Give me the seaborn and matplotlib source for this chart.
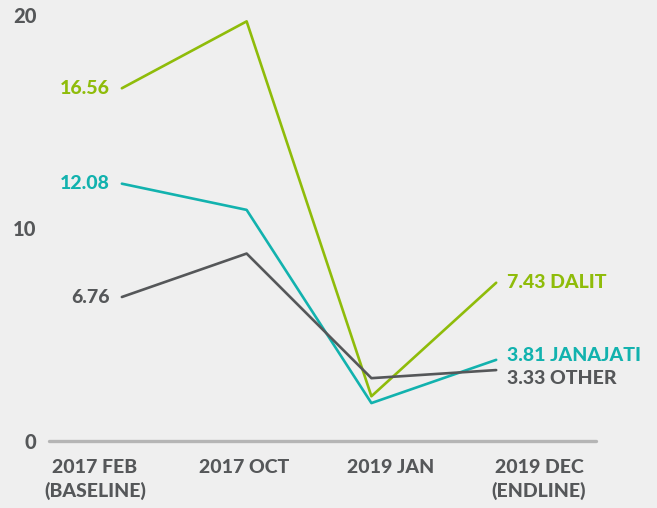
import numpy as np
import pandas as pd
import matplotlib
matplotlib.use("Agg")
import matplotlib.pyplot as plt
import seaborn as sns

# data
rounds = ["2017 FEB\n(BASELINE)", "2017 OCT", "2019 JAN", "2019 DEC\n(ENDLINE)"]
dalit = [16.56, 19.70, 2.10, 7.43]
janajati = [12.08, 10.85, 1.78, 3.81]
other = [6.76, 8.80, 2.95, 3.33]
groups = ["DALIT", "JANAJATI", "OTHER"]
y_ticks = [0, 10, 20]

colors = {"DALIT": "#8fbc0a", "JANAJATI": "#12b2ae", "OTHER": "#555759"}
bg = "#efefef"
txt = "#555759"
W = 900  # heavy weight to mimic the original typeface

df = pd.DataFrame({
    "step": list(range(len(rounds))) * 3,
    "value": dalit + janajati + other,
    "group": np.repeat(groups, len(rounds)),
})

sns.set_theme(style="white")
plt.rcParams["font.family"] = ["Lato", "DejaVu Sans"]

fig = plt.figure(figsize=(6.57, 5.08), dpi=100, facecolor=bg)
ax = fig.add_axes([49 / 657, 67 / 508, 547 / 657, 438.8 / 508])
ax.set_facecolor(bg)

sns.lineplot(data=df, x="step", y="value", hue="group", palette=colors,
             linewidth=1.9, legend=False, ax=ax)

ax.axhline(0, color="#b5b5b5", linewidth=2.4, clip_on=False, zorder=1)

ax.set_xlim(-0.584, 3.8)
ax.set_ylim(0, 20.6)
for s in ax.spines.values():
    s.set_visible(False)

ax.set_yticks(y_ticks)
ax.set_yticklabels([str(t) for t in y_ticks], fontsize=14.5, fontweight=W, color=txt)
# category labels sit on their own even spacing, not under the points
label_pos = [-0.216, 0.976, 2.152, 3.344]
ax.set_xticks(label_pos)
ax.set_xticklabels(rounds, fontsize=14, fontweight=W, color=txt, linespacing=1.4)
ax.tick_params(axis="y", length=0, pad=9)
ax.tick_params(axis="x", length=0, pad=13)
ax.set_xlabel("")
ax.set_ylabel("")

series = {"DALIT": dalit, "JANAJATI": janajati, "OTHER": other}
end_dy = {"DALIT": 0, "JANAJATI": 3, "OTHER": -6}
for g, vals in series.items():
    ax.annotate(f"{vals[0]:.2f}", (0, vals[0]), xytext=(-9, 0), textcoords="offset points",
                ha="right", va="center", fontsize=14, fontweight=W, color=colors[g])
    ax.annotate(f"{vals[-1]:.2f} {g}", (3, vals[-1]), xytext=(8, end_dy[g]),
                textcoords="offset points", ha="left", va="center",
                fontsize=14, fontweight=W, color=colors[g])

fig.savefig("out.png", dpi=100, facecolor=bg)
